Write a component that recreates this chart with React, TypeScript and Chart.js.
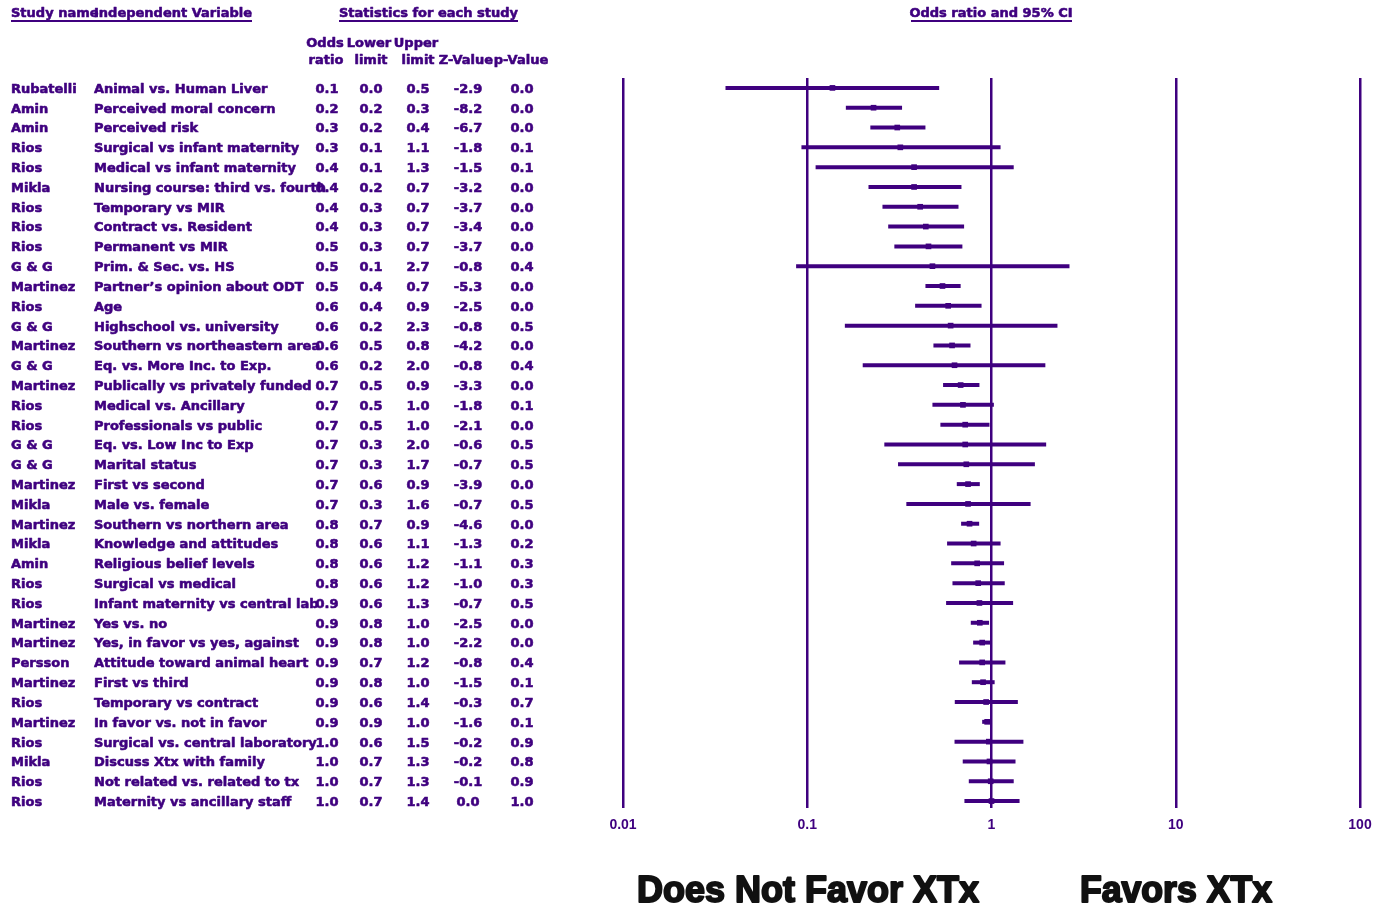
import React, { useEffect, useRef } from "react";
import { Chart, registerables } from "chart.js";

Chart.register(...registerables);

// ---------- data ----------
const studyNames = [
  "Rubatelli", "Amin", "Amin", "Rios", "Rios", "Mikla", "Rios", "Rios", "Rios", "G & G",
  "Martinez", "Rios", "G & G", "Martinez", "G & G", "Martinez", "Rios", "Rios", "G & G", "G & G",
  "Martinez", "Mikla", "Martinez", "Mikla", "Amin", "Rios", "Rios", "Martinez", "Martinez", "Persson",
  "Martinez", "Rios", "Martinez", "Rios", "Mikla", "Rios", "Rios",
];

const variables = [
  "Animal vs. Human Liver", "Perceived moral concern", "Perceived risk", "Surgical vs infant maternity",
  "Medical vs infant maternity", "Nursing course: third vs. fourth", "Temporary vs MIR", "Contract vs. Resident",
  "Permanent vs MIR", "Prim. & Sec. vs. HS", "Partner\u2019s opinion about ODT", "Age",
  "Highschool vs. university", "Southern vs northeastern area", "Eq. vs. More Inc. to Exp.",
  "Publically vs privately funded", "Medical vs. Ancillary", "Professionals vs public", "Eq. vs. Low Inc to Exp",
  "Marital status", "First vs second", "Male vs. female", "Southern vs northern area", "Knowledge and attitudes",
  "Religious belief levels", "Surgical vs medical", "Infant maternity vs central lab", "Yes vs. no",
  "Yes, in favor vs yes, against", "Attitude toward animal heart", "First vs third", "Temporary vs contract",
  "In favor vs. not in favor", "Surgical vs. central laboratory", "Discuss Xtx with family",
  "Not related vs. related to tx", "Maternity vs ancillary staff",
];

const oddsRatioText = [
  "0.1", "0.2", "0.3", "0.3", "0.4", "0.4", "0.4", "0.4", "0.5", "0.5", "0.5", "0.6", "0.6", "0.6", "0.6",
  "0.7", "0.7", "0.7", "0.7", "0.7", "0.7", "0.7", "0.8", "0.8", "0.8", "0.8", "0.9", "0.9", "0.9", "0.9",
  "0.9", "0.9", "0.9", "1.0", "1.0", "1.0", "1.0",
];
const lowerLimitText = [
  "0.0", "0.2", "0.2", "0.1", "0.1", "0.2", "0.3", "0.3", "0.3", "0.1", "0.4", "0.4", "0.2", "0.5", "0.2",
  "0.5", "0.5", "0.5", "0.3", "0.3", "0.6", "0.3", "0.7", "0.6", "0.6", "0.6", "0.6", "0.8", "0.8", "0.7",
  "0.8", "0.6", "0.9", "0.6", "0.7", "0.7", "0.7",
];
const upperLimitText = [
  "0.5", "0.3", "0.4", "1.1", "1.3", "0.7", "0.7", "0.7", "0.7", "2.7", "0.7", "0.9", "2.3", "0.8", "2.0",
  "0.9", "1.0", "1.0", "2.0", "1.7", "0.9", "1.6", "0.9", "1.1", "1.2", "1.2", "1.3", "1.0", "1.0", "1.2",
  "1.0", "1.4", "1.0", "1.5", "1.3", "1.3", "1.4",
];
const zValueText = [
  "-2.9", "-8.2", "-6.7", "-1.8", "-1.5", "-3.2", "-3.7", "-3.4", "-3.7", "-0.8", "-5.3", "-2.5", "-0.8",
  "-4.2", "-0.8", "-3.3", "-1.8", "-2.1", "-0.6", "-0.7", "-3.9", "-0.7", "-4.6", "-1.3", "-1.1", "-1.0",
  "-0.7", "-2.5", "-2.2", "-0.8", "-1.5", "-0.3", "-1.6", "-0.2", "-0.2", "-0.1", "0.0",
];
const pValueText = [
  "0.0", "0.0", "0.0", "0.1", "0.1", "0.0", "0.0", "0.0", "0.0", "0.4", "0.0", "0.0", "0.5", "0.0", "0.4",
  "0.0", "0.1", "0.0", "0.5", "0.5", "0.0", "0.5", "0.0", "0.2", "0.3", "0.3", "0.5", "0.0", "0.0", "0.4",
  "0.1", "0.7", "0.1", "0.9", "0.8", "0.9", "1.0",
];

// values (point estimate and 95% CI)
const plotOddsRatio = [
  0.137, 0.229, 0.308, 0.32, 0.38, 0.38, 0.41, 0.44, 0.455, 0.478, 0.542, 0.582, 0.6, 0.611, 0.63,
  0.68, 0.7, 0.72, 0.72, 0.73, 0.746, 0.746, 0.76, 0.8, 0.836, 0.847, 0.86, 0.864, 0.89, 0.89,
  0.9, 0.935, 0.947, 0.967, 0.975, 0.99, 1.0,
];
const plotLower = [
  0.036, 0.162, 0.22, 0.093, 0.111, 0.215, 0.256, 0.275, 0.297, 0.087, 0.438, 0.385, 0.16, 0.484, 0.2,
  0.546, 0.478, 0.528, 0.262, 0.311, 0.648, 0.345, 0.684, 0.574, 0.604, 0.614, 0.567, 0.772, 0.795, 0.667,
  0.782, 0.632, 0.89, 0.63, 0.698, 0.753, 0.713,
];
const plotUpper = [
  0.52, 0.327, 0.438, 1.12, 1.32, 0.687, 0.662, 0.71, 0.695, 2.65, 0.68, 0.883, 2.28, 0.769, 1.96,
  0.86, 1.03, 0.975, 1.98, 1.72, 0.864, 1.63, 0.857, 1.12, 1.17, 1.18, 1.31, 0.97, 0.995, 1.19,
  1.04, 1.39, 0.998, 1.49, 1.35, 1.32, 1.42,
];

const axisTicks = [0.01, 0.1, 1, 10, 100];

// ---------- styling ----------
const INK = "#3f007f";
const TABLE_FONT = "bold 13px 'DejaVu Sans'";

function heavyText(ctx: CanvasRenderingContext2D, text: string, x: number, y: number) {
  ctx.fillText(text, x, y);
  ctx.strokeText(text, x, y);
}

const forestTextPlugin = {
  id: "forestText",
  afterDraw(chart: any) {
    const ctx: CanvasRenderingContext2D = chart.ctx;
    const yScale = chart.scales.y;
    ctx.save();
    ctx.fillStyle = INK;
    ctx.strokeStyle = INK;
    ctx.lineWidth = 0.6;
    ctx.lineJoin = "round";
    ctx.textBaseline = "middle";
    ctx.font = TABLE_FONT;

    // top headers
    ctx.textAlign = "left";
    heavyText(ctx, "Study name", 11, 14);
    heavyText(ctx, "Independent Variable", 94, 14);
    ctx.fillRect(11, 20, 241, 2);
    heavyText(ctx, "Statistics for each study", 339, 14);
    ctx.fillRect(339, 20, 179, 2);
    ctx.textAlign = "center";
    heavyText(ctx, "Odds ratio and 95% CI", 991, 14);
    ctx.fillRect(911, 20, 161, 2);

    // column headers
    heavyText(ctx, "Odds", 325, 44);
    heavyText(ctx, "Lower", 369, 44);
    heavyText(ctx, "Upper", 416, 44);
    heavyText(ctx, "ratio", 326, 61);
    heavyText(ctx, "limit", 371, 61);
    heavyText(ctx, "limit", 418, 61);
    heavyText(ctx, "Z-Value", 466, 61);
    heavyText(ctx, "p-Value", 521, 61);

    // rows
    for (let i = 0; i < studyNames.length; i++) {
      const py = yScale.getPixelForValue(i) + 1.5;
      ctx.textAlign = "left";
      heavyText(ctx, studyNames[i], 11, py);
      heavyText(ctx, variables[i], 94, py);
      ctx.textAlign = "center";
      heavyText(ctx, oddsRatioText[i], 327, py);
      heavyText(ctx, lowerLimitText[i], 371, py);
      heavyText(ctx, upperLimitText[i], 418, py);
      heavyText(ctx, zValueText[i], 468, py);
      heavyText(ctx, pValueText[i], 522, py);
    }

    // favour labels
    ctx.fillStyle = "#111111";
    ctx.strokeStyle = "#111111";
    ctx.lineWidth = 2;
    ctx.textAlign = "left";
    ctx.font = "bold 37px 'Liberation Sans'";
    ctx.fillText("Does Not Favor XTx", 637, 892, 342);
    ctx.strokeText("Does Not Favor XTx", 637, 892, 342);
    ctx.fillText("Favors XTx", 1080, 892, 192);
    ctx.strokeText("Favors XTx", 1080, 892, 192);
    ctx.restore();
  },
};

export default function App() {
  const canvasRef = useRef<HTMLCanvasElement | null>(null);

  useEffect(() => {
    const canvas = canvasRef.current;
    if (!canvas) return;

    const ciDatasets = plotLower.map((lo, i) => ({
      type: "scatter" as const,
      data: [
        { x: lo, y: i },
        { x: plotUpper[i], y: i },
      ],
      showLine: true,
      borderColor: INK,
      borderWidth: 4,
      borderCapStyle: "butt" as const,
      pointRadius: 0,
      order: 2,
    }));

    const pointDataset = {
      type: "scatter" as const,
      data: plotOddsRatio.map((v, i) => ({ x: v, y: i })),
      pointStyle: "rect" as const,
      pointRadius: 4,
      pointBorderWidth: 0,
      backgroundColor: INK,
      borderColor: INK,
      showLine: false,
      order: 1,
    };

    const chart = new Chart(canvas, {
      type: "scatter",
      data: { datasets: [pointDataset, ...ciDatasets] as any },
      plugins: [forestTextPlugin],
      options: {
        animation: false,
        responsive: false,
        devicePixelRatio: 1,
        events: [],
        layout: { padding: { left: 623, right: 19, top: 78, bottom: 0 } },
        plugins: { legend: { display: false }, tooltip: { enabled: false }, title: { display: false } },
        scales: {
          x: {
            type: "logarithmic",
            min: 0.01,
            max: 100,
            afterBuildTicks: (s: any) => {
              s.ticks = axisTicks.map((v) => ({ value: v }));
            },
            afterFit: (s: any) => {
              s.height = 98;
              s.paddingLeft = 0;
              s.paddingRight = 0;
            },
            grid: { color: INK, lineWidth: 2.5, drawTicks: false },
            border: { display: false },
            ticks: {
              color: INK,
              padding: 9,
              autoSkip: false,
              maxRotation: 0,
              font: { family: "Liberation Sans", weight: "bold", size: 14 },
              callback: (v: any) => String(v),
            },
          },
          y: {
            type: "linear",
            min: -0.5,
            max: 36.35,
            reverse: true,
            display: false,
          },
        },
      } as any,
    });

    return () => chart.destroy();
  }, []);

  return (
    <div style={{ position: "absolute", left: 0, top: 0, width: 1379, height: 906, background: "#fff" }}>
      <canvas ref={canvasRef} width={1379} height={906} style={{ display: "block" }} />
    </div>
  );
}
